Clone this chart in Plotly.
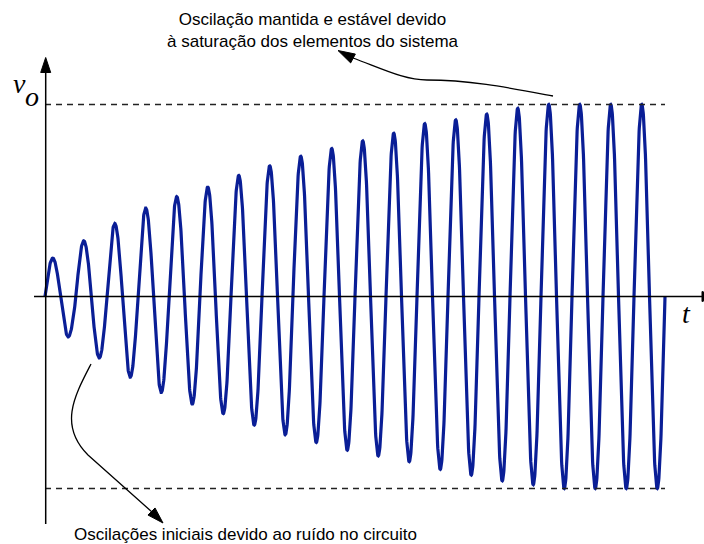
import numpy as np
import plotly.graph_objects as go

# ---------------- data ----------------
# amplitude of each positive / negative lobe, relative to the saturation level
peak_amp = [0.20, 0.29, 0.38, 0.46, 0.52, 0.57, 0.63, 0.68, 0.73, 0.77,
            0.81, 0.85, 0.90, 0.92, 0.95, 0.98, 1.00, 1.00, 1.00, 1.00]
trough_amp = [0.21, 0.32, 0.42, 0.50, 0.56, 0.61, 0.67, 0.72, 0.76, 0.80,
              0.83, 0.86, 0.90, 0.93, 0.96, 0.98, 1.00, 1.00, 1.00, 1.00]
sat_level = 1.0
n_cycles = len(peak_amp)

top_text = "Oscilação mantida e estável devido<br>à saturação dos elementos do sistema"
bottom_text = "Oscilações iniciais devido ao ruído no circuito"

# ---------------- waveform from lobe amplitudes ----------------
t_list, v_list = [], []
for k in range(n_cycles):
    for half, amp in ((0, peak_amp[k]), (1, trough_amp[k])):
        tt = np.linspace(k + 0.5 * half, k + 0.5 * (half + 1), 80)
        t_list.append(tt)
        v_list.append(amp * np.sin(2 * np.pi * tt))
t = np.concatenate(t_list)
v = np.concatenate(v_list)

# ---------------- layout geometry helpers ----------------
W, H = 704, 544
X0_PX, PERIOD_PX = 45.0, 31.0
Y0_PX, SAT_PX = 296.5, 192.0


def dx(p):
    return (p - X0_PX) / PERIOD_PX


def dy(p):
    return (Y0_PX - p) / SAT_PX


def pt(x, y):
    return f"{dx(x):.5f},{dy(y):.5f}"


def arrow_head(tip, base, half_w):
    tx, ty = tip
    bx, by = base
    ux, uy = tx - bx, ty - by
    L = (ux ** 2 + uy ** 2) ** 0.5
    nx, ny = -uy / L * half_w, ux / L * half_w
    return (f"M {pt(tx, ty)} L {pt(bx + nx, by + ny)} "
            f"L {pt(bx - nx, by - ny)} Z")


fig = go.Figure()
fig.add_trace(go.Scatter(x=t, y=v, mode="lines",
                         line=dict(color="#0a1e96", width=3.2),
                         hoverinfo="skip", showlegend=False))

shapes = []
black = "#000000"
# dashed saturation levels
for lvl in (sat_level, -sat_level):
    shapes.append(dict(type="line", x0=0, x1=n_cycles, y0=lvl, y1=lvl,
                       line=dict(color="#222222", width=1.3, dash="6px,5px")))
# y axis
shapes.append(dict(type="line", x0=dx(45.7), x1=dx(45.7), y0=dy(524), y1=dy(71),
                   line=dict(color=black, width=1.5)))
shapes.append(dict(type="path", path=arrow_head((45.7, 57.5), (45.7, 72.5), 5),
                   fillcolor=black, line=dict(color=black, width=1)))
# x axis
shapes.append(dict(type="line", x0=dx(34), x1=dx(703), y0=0, y1=0,
                   line=dict(color=black, width=1.5)))
shapes.append(dict(type="path", path=arrow_head((716, 296.5), (702, 296.5), 5),
                   fillcolor=black, line=dict(color=black, width=1)))

# top curved arrow
top_path = (f"M {pt(553, 96)} C {pt(510, 88)} {pt(470, 80)} {pt(427, 80)} "
            f"C {pt(405, 80)} {pt(385, 70)} {pt(353, 58)}")
shapes.append(dict(type="path", path=top_path,
                   line=dict(color=black, width=1.3)))
shapes.append(dict(type="path", path=arrow_head((338, 50.5), (353, 58.5), 5),
                   fillcolor=black, line=dict(color=black, width=1)))

# bottom curved arrow
bot_path = (f"M {pt(91, 364)} C {pt(75, 395)} {pt(58, 425)} {pt(88, 455)} "
            f"L {pt(152, 512)}")
shapes.append(dict(type="path", path=bot_path,
                   line=dict(color=black, width=1.3)))
shapes.append(dict(type="path", path=arrow_head((163, 523), (151.5, 511.5), 5),
                   fillcolor=black, line=dict(color=black, width=1)))

annotations = [
    dict(x=dx(313), y=dy(30.5), text=top_text, showarrow=False,
         xanchor="center", yanchor="middle",
         font=dict(family="Liberation Sans, Arial, sans-serif", size=17, color=black)),
    dict(x=dx(72), y=dy(534), text=bottom_text, showarrow=False,
         xanchor="left", yanchor="middle",
         font=dict(family="Liberation Sans, Arial, sans-serif", size=17, color=black)),
    dict(x=dx(19.5), y=dy(83), text="<i>v</i>", showarrow=False,
         xanchor="center", yanchor="middle",
         font=dict(family="Liberation Serif, Times New Roman, serif", size=28, color=black)),
    dict(x=dx(31.5), y=dy(96), text="<i>o</i>", showarrow=False,
         xanchor="center", yanchor="middle",
         font=dict(family="Liberation Serif, Times New Roman, serif", size=28, color=black)),
    dict(x=dx(686), y=dy(313), text="<i>t</i>", showarrow=False,
         xanchor="center", yanchor="middle",
         font=dict(family="Liberation Serif, Times New Roman, serif", size=28, color=black)),
]

fig.update_layout(
    width=W, height=H,
    margin=dict(l=0, r=0, t=0, b=0),
    paper_bgcolor="white", plot_bgcolor="white",
    xaxis=dict(range=[dx(0), dx(W)], visible=False, fixedrange=True),
    yaxis=dict(range=[dy(H), dy(0)], visible=False, fixedrange=True),
    shapes=shapes, annotations=annotations,
    showlegend=False,
)

fig.write_html("out.html",
               config={"displayModeBar": False, "staticPlot": True},
               post_script="document.body.style.margin='0px';"
                           "document.body.style.overflow='hidden';")
